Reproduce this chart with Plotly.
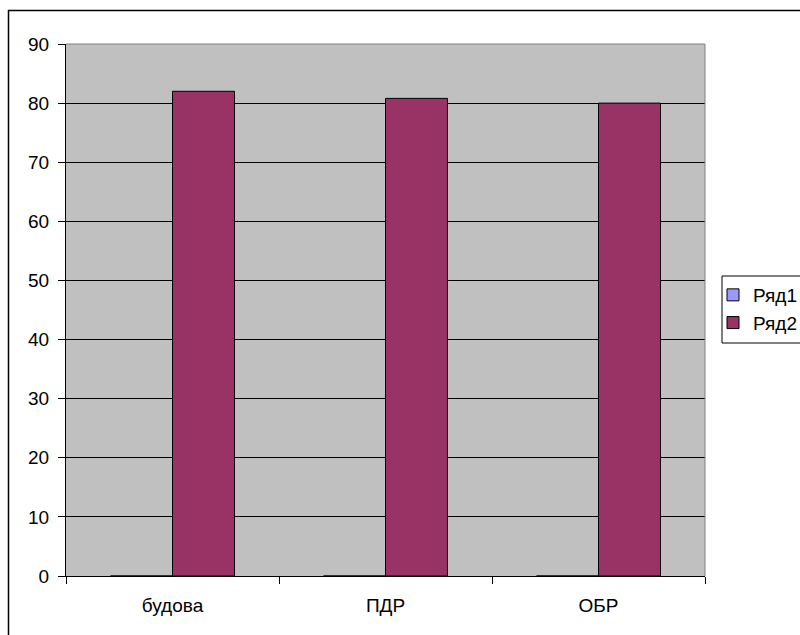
import plotly.graph_objects as go

categories = ["будова", "ПДР", "ОБР"]
series1_name = "Ряд1"
series1_values = [0, 0, 0]
series2_name = "Ряд2"
series2_values = [82, 80.8, 80]
y_ticks = [0, 10, 20, 30, 40, 50, 60, 70, 80, 90]

FONT = "Liberation Sans, Arial, sans-serif"
L, T, R, B = 66, 44, 95, 59
W, H = 800, 635
pw = W - L - R
ph = H - T - B

fig = go.Figure()
fig.add_trace(go.Bar(name=series1_name, x=categories, y=series1_values,
                     marker=dict(color="#9999FF", line=dict(color="black", width=1))))
fig.add_trace(go.Bar(name=series2_name, x=categories, y=series2_values,
                     marker=dict(color="#993366", line=dict(color="black", width=1))))

def px_x(p):
    return (p - L) / pw

def px_y(p):
    return (H - B - p) / ph

fig.update_layout(
    width=W, height=H, autosize=False,
    margin=dict(l=L, r=R, t=T, b=B, pad=0, autoexpand=False),
    paper_bgcolor="white", plot_bgcolor="#C0C0C0",
    barmode="group", bargap=0.418, bargroupgap=0,
    font=dict(family=FONT, size=19, color="black"),
    showlegend=True,
    legend=dict(x=px_x(713), y=px_y(276), xanchor="left", yanchor="top",
                borderwidth=0, bgcolor="rgba(0,0,0,0)",
                font=dict(family=FONT, size=19), tracegroupgap=0,
                itemclick=False, itemdoubleclick=False),
    xaxis=dict(showgrid=False, showline=True, linecolor="black", linewidth=1,
               ticks="outside", ticklen=7, tickcolor="black", tickson="boundaries",
               tickfont=dict(family=FONT, size=19), zeroline=False,
               ticklabelstandoff=12, automargin=False),
    yaxis=dict(range=[0, 90], tickvals=y_ticks, showgrid=True, gridcolor="black",
               gridwidth=1, showline=True, linecolor="black", linewidth=1,
               ticks="outside", ticklen=7, tickcolor="black", zeroline=False,
               tickfont=dict(family=FONT, size=19), ticklabelstandoff=5,
               automargin=False),
    shapes=[
        dict(type="line", xref="paper", yref="paper", x0=0, x1=1, y0=1, y1=1,
             line=dict(color="#808080", width=1)),
        dict(type="line", xref="paper", yref="paper", x0=1, x1=1, y0=0, y1=1,
             line=dict(color="#808080", width=1)),
        dict(type="rect", xref="paper", yref="paper",
             x0=px_x(8.5), x1=px_x(820), y0=px_y(10.5), y1=px_y(660),
             line=dict(color="black", width=1.5)),
        dict(type="rect", xref="paper", yref="paper",
             x0=px_x(722), x1=px_x(820), y0=px_y(276), y1=px_y(343),
             line=dict(color="black", width=1)),
    ],
)

fig.write_html("out.html", config={"displayModeBar": False},
               post_script="document.body.style.margin='0';document.body.style.overflow='hidden';")
